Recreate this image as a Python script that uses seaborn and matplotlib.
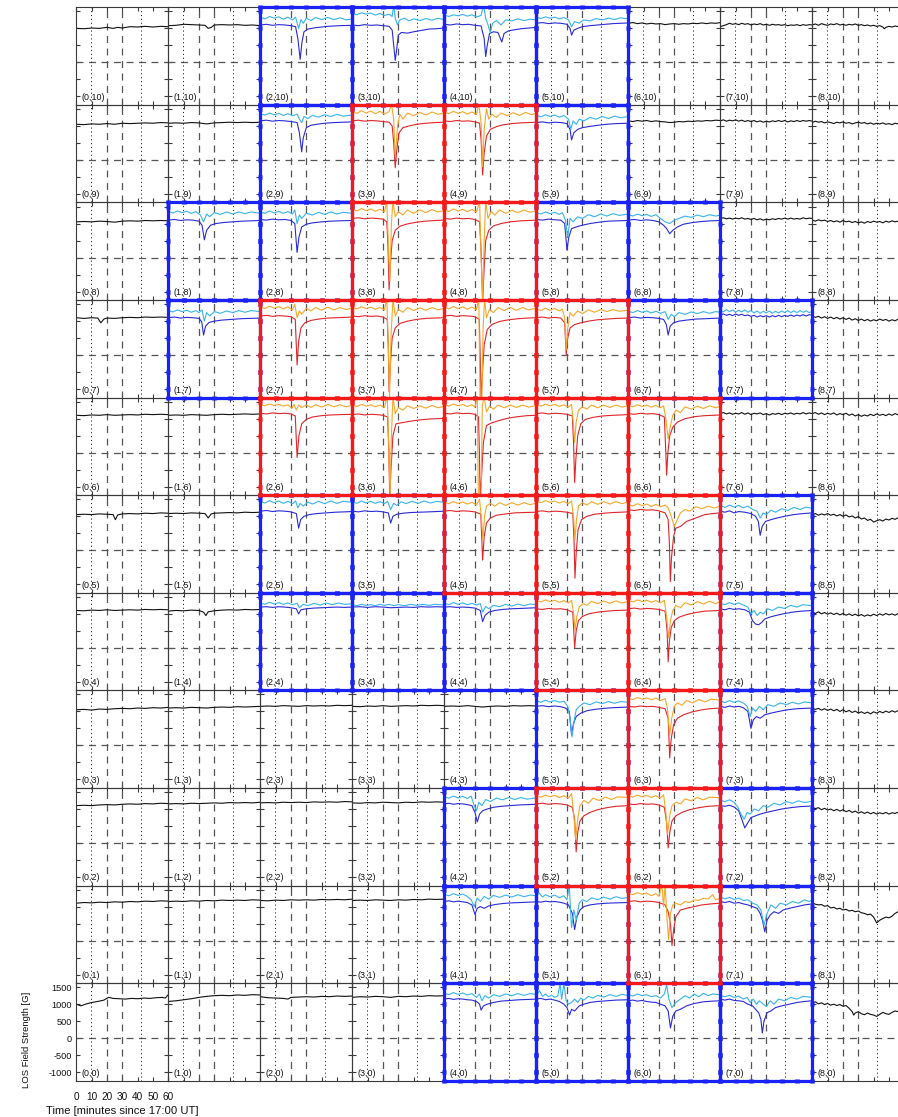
import matplotlib
matplotlib.use("Agg")
import matplotlib.pyplot as plt
import pandas as pd
import seaborn as sns

sns.set_theme(style="white")
plt.rcParams["font.family"] = ["Liberation Sans", "DejaVu Sans"]
plt.rcParams["lines.scale_dashes"] = False

# ---------------------------------------------------------------------------
# Grid of LOS magnetogram cells: 9 columns x 11 rows, cell label (col,row)
# ---------------------------------------------------------------------------
N_COLS, N_ROWS = 9, 11
TIME_LIM = (0, 60)              # minutes since 17:00 UT
FIELD_LIM = (-1250, 1620)       # gauss
TIME_TICKS = [0, 10, 20, 30, 40, 50, 60]
FIELD_TICKS = [-1000, -500, 0, 500, 1000, 1500]
DASHED_TIMES = [20, 30]
DOTTED_TIMES = [9.5, 42.5]

blue_cells = [(2, 10), (3, 10), (4, 10), (5, 10),
              (2, 9), (5, 9),
              (1, 8), (2, 8), (5, 8), (6, 8),
              (1, 7), (6, 7), (7, 7),
              (2, 5), (3, 5), (7, 5),
              (2, 4), (3, 4), (4, 4), (7, 4),
              (5, 3), (7, 3),
              (4, 2), (7, 2),
              (4, 1), (5, 1), (7, 1),
              (4, 0), (5, 0), (6, 0), (7, 0)]
red_cells = [(3, 9), (4, 9),
             (3, 8), (4, 8),
             (2, 7), (3, 7), (4, 7), (5, 7),
             (2, 6), (3, 6), (4, 6), (5, 6), (6, 6),
             (4, 5), (5, 5), (6, 5),
             (5, 4), (6, 4),
             (6, 3),
             (5, 2), (6, 2),
             (6, 1)]

# ---------------------------------------------------------------------------
# Field-strength traces, (minute, gauss) knots, keyed by column, one dict per row.
# "main": black / dark blue / red curve ; "aux": light blue / orange curve.
# ---------------------------------------------------------------------------
row10_main = {
    0: [(0,1000),(5,990),(10,1010),(15,1000),(20,1030),(24,1000),(27,1030),(30,1010),(35,1050),(40,1040),(45,1060),(50,1040),(55,1060),(60,1050)],
    1: [(0,1080),(5,1090),(10,1120),(15,1110),(20,1100),(24,1090),(26,1000),(28,1030),(30,1100),(35,1110),(40,1100),(45,1110),(50,1090),(55,1100),(60,1080)],
    2: [(0,1100),(4,1120),(8,1090),(12,1110),(16,1100),(20,1080),(23,1050),(24.5,700),(26,90),(27.2,600),(28.5,900),(31,980),(36,1020),(44,1060),(52,1080),(60,1090)],
    3: [(0,1100),(4,1080),(8,1110),(12,1090),(16,1100),(20,1080),(24,1060),(26,950),(27,500),(28,60),(29,400),(30,800),(32,880),(36,860),(40,900),(45,940),(50,980),(55,990),(60,1010)],
    4: [(0,1120),(4,1100),(8,1130),(12,1110),(16,1120),(20,1090),(24,1070),(26,700),(27,170),(28,500),(29.5,850),(32,900),(35,880),(37.5,600),(39,850),(42,930),(46,960),(50,990),(55,1010),(60,1030)],
    5: [(0,1150),(4,1170),(8,1140),(12,1160),(16,1150),(20,1120),(22,1000),(23,800),(24.5,950),(27,1000),(30,1050),(35,1080),(40,1100),(45,1120),(50,1140),(55,1150),(60,1160)],
    6: [(0,1150),(3,1170),(6,1140),(9,1160),(12,1130),(15,1150),(18,1130),(21,1140),(24,1110),(27,1130),(30,1140),(33,1120),(36,1140),(39,1130),(42,1150),(45,1140),(48,1160),(51,1140),(54,1160),(57,1150),(60,1170)],
    7: [(0,1050),(2,1080),(4,1110),(6,1150),(8,1120),(10,1140),(12,1110),(14,1150),(16,1120),(18,1140),(20,1100),(22,1130),(24,1110),(26,1140),(28,1100),(30,1120),(32,1090),(34,1120),(36,1100),(38,1110),(40,1090),(42,1110),(44,1080),(46,1100),(48,1090),(50,1110),(52,1080),(54,1110),(56,1090),(58,1110),(60,1100)],
    8: [(0,1100),(2,1130),(4,1090),(6,1140),(8,1110),(10,1090),(12,1130),(14,1110),(16,1140),(18,1100),(20,1120),(22,1090),(24,1120),(26,1100),(28,1130),(30,1090),(32,1110),(34,1080),(36,1100),(38,1070),(40,1090),(42,1060),(44,1080),(46,1040),(47,990),(48,1030),(50,1060),(52,1040),(54,1070),(56,1050),(58,1080),(60,1060)],
}
row10_aux = {
    2: [(0,1330),(3,1280),(6,1350),(9,1300),(12,1340),(15,1270),(18,1330),(21,1250),(23,1330),(25,1000),(26.5,1260),(28,1150),(30,1300),(33,1230),(36,1320),(40,1260),(44,1320),(48,1260),(52,1310),(56,1250),(60,1280)],
    3: [(0,1430),(3,1400),(6,1460),(9,1420),(12,1450),(15,1390),(18,1440),(21,1380),(24,1420),(26,1350),(27,1700),(28,1300),(29.5,1100),(31,1250),(34,1300),(37,1220),(40,1280),(44,1230),(48,1290),(52,1240),(56,1300),(60,1250)],
    4: [(0,1390),(3,1350),(6,1400),(9,1370),(12,1410),(15,1360),(18,1400),(21,1340),(24,1380),(25.5,1700),(27,1300),(28.5,1100),(30,870),(31.5,1150),(34,1230),(37,1100),(40,1250),(44,1220),(48,1280),(52,1230),(56,1270),(60,1250)],
    5: [(0,1330),(3,1290),(6,1340),(9,1300),(12,1330),(15,1280),(18,1320),(21,1250),(23,1050),(25,1200),(28,1150),(31,1250),(35,1220),(39,1290),(43,1250),(47,1300),(51,1260),(55,1310),(60,1280)],
}

row9_main = {
    0: [(0,1050),(5,1040),(10,1060),(15,1050),(20,1070),(25,1050),(30,1080),(35,1070),(40,1080),(45,1090),(50,1080),(55,1100),(60,1090)],
    1: [(0,1080),(5,1090),(10,1080),(15,1100),(20,1090),(25,1060),(30,1090),(35,1100),(40,1110),(45,1100),(50,1110),(55,1100),(60,1110)],
    2: [(0,1150),(4,1170),(8,1140),(12,1160),(16,1150),(20,1130),(24,1100),(25.5,800),(27,240),(28,650),(30,950),(33,1020),(37,1050),(42,1080),(48,1100),(54,1110),(60,1120)],
    3: [(0,1150),(4,1170),(8,1140),(12,1160),(16,1150),(20,1130),(24,1110),(26,1000),(27,500),(28,-230),(29,300),(30.5,800),(33,950),(37,1000),(42,1050),(48,1080),(54,1100),(60,1110)],
    4: [(0,1150),(4,1130),(8,1160),(12,1140),(16,1150),(20,1120),(23,1080),(24,600),(25,-440),(26,200),(27.5,700),(30,900),(34,980),(38,1030),(44,1070),(50,1090),(55,1100),(60,1110)],
    5: [(0,1100),(4,1120),(8,1090),(12,1110),(16,1100),(20,1070),(22,900),(23,590),(24.5,800),(27,900),(30,950),(34,980),(40,1020),(46,1050),(52,1070),(60,1080)],
    6: [(0,1150),(3,1130),(6,1160),(9,1140),(12,1160),(15,1130),(18,1150),(21,1130),(24,1120),(27,1100),(30,1110),(33,1130),(36,1120),(39,1140),(42,1130),(45,1150),(48,1140),(51,1160),(54,1150),(57,1170),(60,1160)],
    7: [(0,1150),(2,1180),(4,1140),(6,1170),(8,1150),(10,1180),(12,1140),(14,1170),(16,1130),(18,1160),(20,1130),(22,1160),(24,1120),(26,1150),(28,1110),(30,1140),(32,1120),(34,1150),(36,1130),(38,1160),(40,1130),(42,1160),(44,1120),(46,1150),(48,1130),(50,1160),(52,1130),(54,1160),(56,1140),(58,1160),(60,1140)],
    8: [(0,1100),(2,1140),(4,1110),(6,1130),(8,1090),(10,1120),(12,1100),(14,1070),(16,1110),(18,1090),(20,1120),(22,1080),(24,1100),(26,1060),(28,1090),(30,1110),(32,1080),(34,1100),(36,1060),(38,1090),(40,1050),(42,1080),(44,1060),(46,1090),(48,1050),(50,1070),(52,1040),(54,1080),(56,1060),(58,1090),(60,1070)],
}
row9_aux = {
    2: [(0,1360),(3,1320),(6,1380),(9,1330),(12,1370),(15,1310),(18,1360),(21,1300),(24,1350),(25.5,1200),(27,1100),(28.5,1280),(31,1220),(34,1310),(38,1260),(42,1330),(46,1280),(50,1340),(54,1290),(60,1320)],
    3: [(0,1420),(3,1370),(6,1450),(9,1380),(12,1440),(15,1360),(18,1430),(21,1350),(24,1420),(25.5,1650),(27,1200),(28,100),(29.5,1000),(31,1350),(33,1200),(36,1380),(40,1300),(44,1400),(48,1320),(52,1410),(56,1340),(60,1390)],
    4: [(0,1400),(3,1360),(6,1430),(9,1370),(12,1420),(15,1350),(18,1410),(21,1340),(22.5,1650),(24,1100),(25,-200),(26,900),(27.5,1500),(29,1200),(31,1350),(34,1250),(37,1380),(41,1300),(45,1390),(49,1310),(53,1400),(57,1330),(60,1380)],
    5: [(0,1310),(3,1270),(6,1330),(9,1280),(12,1320),(15,1260),(18,1310),(21,1200),(22.5,900),(24,1150),(26,1050),(28,1200),(31,1150),(35,1250),(39,1200),(43,1280),(47,1220),(51,1290),(55,1240),(60,1280)],
}

row8_main = {
    0: [(0,1050),(5,1060),(10,1050),(15,1070),(20,1060),(25,1040),(30,1070),(35,1080),(40,1070),(45,1090),(50,1080),(55,1090),(60,1080)],
    1: [(0,1100),(4,1120),(8,1090),(12,1110),(16,1100),(20,1070),(22,950),(23.5,520),(25,800),(27.5,950),(31,1000),(36,1030),(42,1050),(48,1070),(54,1080),(60,1090)],
    2: [(0,1120),(4,1100),(8,1130),(12,1110),(16,1120),(20,1090),(22.5,1000),(24,150),(25.2,600),(27,900),(30,980),(34,1020),(40,1050),(46,1070),(52,1080),(60,1090)],
    3: [(0,1150),(4,1170),(8,1140),(12,1160),(16,1150),(20,1130),(22.5,1050),(23.3,300),(24,-950),(24.8,-200),(26,500),(28,800),(31,920),(36,990),(42,1040),(48,1070),(54,1090),(60,1100)],
    4: [(0,1150),(4,1130),(8,1160),(12,1140),(16,1150),(20,1120),(23,1050),(24,200),(25,-1300),(26,-300),(27,500),(29,800),(32,930),(37,1000),(43,1050),(50,1080),(55,1090),(60,1100)],
    5: [(0,1120),(4,1100),(8,1130),(12,1110),(16,1100),(18.5,1000),(20,220),(21.2,600),(23,850),(26,900),(30,950),(35,1000),(41,1040),(47,1070),(53,1080),(60,1090)],
    6: [(0,1100),(4,1120),(8,1090),(12,1110),(16,1090),(20,1050),(23,950),(25,850),(27,700),(29,800),(32,900),(36,980),(42,1030),(48,1060),(54,1080),(60,1090)],
    7: [(0,1150),(2,1170),(4,1140),(6,1160),(8,1130),(10,1160),(12,1140),(14,1170),(16,1130),(18,1150),(20,1120),(22,1150),(24,1110),(26,1140),(28,1100),(30,1130),(32,1110),(34,1140),(36,1120),(38,1150),(40,1130),(42,1160),(44,1130),(46,1160),(48,1130),(50,1150),(52,1130),(54,1170),(56,1140),(58,1160),(60,1150)],
    8: [(0,1100),(2,1070),(4,1110),(6,1080),(8,1100),(10,1060),(12,1090),(14,1050),(16,1080),(18,1040),(20,1090),(22,1050),(24,1070),(26,1030),(28,1060),(30,1020),(32,1050),(34,1010),(36,1060),(38,1030),(40,1070),(42,1040),(44,1060),(46,1020),(48,1070),(50,1040),(52,1080),(54,1050),(56,1070),(58,1040),(60,1080)],
}
row8_aux = {
    1: [(0,1360),(3,1310),(6,1370),(9,1320),(12,1360),(15,1300),(18,1350),(21,1250),(23,1050),(25,1280),(27,1200),(30,1320),(34,1270),(38,1340),(42,1280),(46,1340),(50,1290),(54,1340),(60,1300)],
    2: [(0,1340),(3,1300),(6,1370),(9,1310),(12,1360),(15,1300),(18,1350),(21,1280),(22.5,1400),(24,1000),(25.5,1250),(27,1150),(30,1300),(34,1250),(38,1330),(42,1270),(46,1340),(50,1280),(54,1330),(60,1300)],
    3: [(0,1420),(3,1370),(6,1440),(9,1380),(12,1430),(15,1360),(18,1420),(21,1350),(22.5,1650),(23.5,400),(24.5,-700),(25.5,1000),(26.5,1650),(28,1200),(30,1350),(33,1250),(36,1400),(40,1300),(44,1400),(48,1320),(52,1410),(56,1340),(60,1390)],
    4: [(0,1400),(3,1350),(6,1430),(9,1370),(12,1420),(15,1350),(18,1410),(21,1340),(23,1650),(24,0),(25,-1300),(26,500),(27,1650),(28.5,1150),(30.5,1350),(33,1250),(36,1400),(40,1300),(44,1390),(48,1320),(52,1400),(56,1330),(60,1380)],
    5: [(0,1320),(3,1280),(6,1340),(9,1290),(12,1330),(15,1270),(17,1320),(19,1100),(20.5,600),(22,1150),(24,1050),(27,1200),(30,1150),(34,1260),(38,1200),(42,1280),(46,1220),(50,1290),(54,1240),(60,1280)],
    6: [(0,1260),(3,1220),(6,1280),(9,1230),(12,1270),(15,1210),(18,1260),(21,1150),(24,1050),(27,1000),(30,1100),(33,1150),(37,1220),(41,1180),(45,1250),(49,1200),(53,1260),(57,1220),(60,1250)],
}

row7_main = {
    0: [(0,1100),(5,1080),(10,1100),(14,1090),(16,950),(18,1060),(20,1090),(25,1080),(30,1100),(35,1110),(40,1100),(45,1120),(50,1110),(55,1120),(60,1110)],
    1: [(0,1100),(4,1120),(8,1090),(12,1110),(16,1100),(20,1080),(21.8,980),(23,590),(24.3,850),(26.5,960),(30,1000),(35,1030),(41,1050),(47,1070),(53,1080),(60,1090)],
    2: [(0,1150),(4,1170),(8,1140),(12,1160),(16,1150),(20,1130),(22.8,1050),(24,-290),(25,400),(26.5,800),(29,950),(33,1020),(38,1060),(44,1090),(50,1100),(55,1110),(60,1120)],
    3: [(0,1150),(4,1130),(8,1160),(12,1140),(16,1150),(20,1120),(22.8,1050),(23.5,200),(24,-1080),(24.8,-300),(26,500),(28,800),(31,930),(36,1000),(42,1050),(48,1080),(54,1090),(60,1100)],
    4: [(0,1150),(4,1170),(8,1140),(12,1160),(16,1150),(20,1130),(22.8,1050),(23.4,0),(24,-1300),(24.8,-600),(26,300),(28,750),(31,900),(36,990),(42,1040),(48,1070),(54,1090),(60,1100)],
    5: [(0,1100),(4,1120),(8,1090),(12,1110),(16,1090),(18.5,950),(19.5,0),(20.5,500),(22,800),(25,900),(29,950),(34,1000),(40,1040),(46,1060),(52,1080),(60,1090)],
    6: [(0,1100),(4,1120),(8,1090),(12,1110),(16,1100),(20,1080),(23,1050),(24.8,900),(26,590),(27.3,850),(29.5,950),(33,1000),(38,1030),(44,1060),(50,1070),(55,1080),(60,1090)],
    7: [(0,1180),(2,1210),(4,1170),(6,1200),(8,1160),(10,1210),(12,1170),(14,1200),(16,1160),(18,1180),(20,1140),(22,1170),(24,1120),(26,1160),(28,1130),(30,1160),(32,1120),(34,1160),(36,1130),(38,1170),(40,1130),(42,1170),(44,1140),(46,1180),(48,1140),(50,1180),(52,1150),(54,1190),(56,1150),(58,1190),(60,1170)],
    8: [(0,1150),(2,1110),(4,1140),(6,1090),(8,1130),(10,1080),(12,1120),(14,1070),(16,1110),(18,1060),(20,1100),(22,1050),(24,1090),(26,1030),(28,1070),(30,1020),(32,1060),(34,1010),(36,1050),(38,1000),(40,1040),(42,1010),(44,1060),(46,1020),(48,1050),(50,1000),(52,1040),(54,1010),(56,1060),(58,1020),(60,1050)],
}
row7_aux = {
    1: [(0,1310),(3,1270),(6,1330),(9,1280),(12,1320),(15,1260),(18,1310),(20,1250),(22,1330),(23.5,1000),(25,1250),(27,1150),(30,1280),(34,1230),(38,1300),(42,1250),(46,1310),(50,1260),(54,1310),(60,1280)],
    2: [(0,1420),(3,1370),(6,1440),(9,1380),(12,1430),(15,1360),(18,1420),(21,1330),(22.5,1500),(24,1100),(25.5,1300),(27,1200),(30,1380),(33,1300),(36,1400),(40,1320),(44,1410),(48,1330),(52,1400),(56,1340),(60,1390)],
    3: [(0,1400),(3,1360),(6,1420),(9,1370),(12,1410),(15,1350),(18,1400),(21,1330),(22.5,1650),(23.5,300),(24.3,-1250),(25.3,600),(26.5,1650),(28,1150),(30,1350),(33,1260),(36,1400),(40,1310),(44,1390),(48,1320),(52,1400),(56,1330),(60,1380)],
    4: [(0,1410),(3,1360),(6,1430),(9,1370),(12,1420),(15,1350),(18,1410),(21,1340),(22.5,1650),(23.3,-1300),(24.5,-1300),(25.3,800),(26.3,1650),(27.5,1100),(29.5,1350),(32,1250),(35,1400),(39,1310),(43,1400),(47,1320),(51,1400),(55,1330),(60,1380)],
    5: [(0,1360),(3,1310),(6,1380),(9,1320),(12,1370),(15,1300),(17,1350),(18.5,1100),(19.5,150),(20.5,800),(22,1250),(24,1150),(27,1300),(30,1220),(34,1330),(38,1260),(42,1340),(46,1280),(50,1340),(54,1290),(60,1320)],
    6: [(0,1290),(3,1250),(6,1310),(9,1260),(12,1300),(15,1240),(18,1290),(21,1230),(24,1280),(26,1050),(28,1200),(30,1130),(33,1250),(37,1200),(41,1270),(45,1220),(49,1280),(53,1230),(57,1280),(60,1260)],
    7: [(0,1310),(2,1270),(4,1340),(6,1280),(8,1330),(10,1260),(12,1320),(14,1270),(16,1330),(18,1260),(20,1310),(22,1240),(24,1300),(26,1230),(28,1290),(30,1240),(32,1300),(34,1230),(36,1290),(38,1240),(40,1300),(42,1250),(44,1310),(46,1250),(48,1300),(50,1250),(52,1310),(54,1260),(56,1300),(58,1250),(60,1290)],
}

row6_main = {
    0: [(0,1100),(5,1090),(10,1110),(15,1100),(20,1120),(25,1100),(30,1110),(35,1120),(40,1110),(45,1130),(50,1120),(55,1130),(60,1120)],
    1: [(0,1100),(5,1110),(10,1100),(15,1120),(20,1110),(25,1100),(30,1120),(35,1130),(40,1120),(45,1130),(50,1140),(55,1130),(60,1140)],
    2: [(0,1160),(4,1140),(8,1170),(12,1150),(16,1160),(20,1140),(22.8,1080),(24,-140),(25.2,500),(27,850),(30,980),(34,1050),(40,1090),(46,1110),(52,1120),(60,1130)],
    3: [(0,1120),(4,1140),(8,1110),(12,1130),(16,1120),(20,1100),(23,1050),(23.8,100),(24.4,-1300),(25.2,-500),(26.5,500),(28.5,850),(32,880),(37,920),(43,960),(50,990),(55,1000),(60,1010)],
    4: [(0,1160),(4,1140),(8,1170),(12,1150),(16,1160),(20,1130),(22.3,1050),(22.9,0),(23.4,-1300),(24.3,-700),(25.5,300),(27.5,800),(31,880),(36,950),(42,1020),(48,1060),(54,1090),(60,1100)],
    5: [(0,1150),(4,1170),(8,1140),(12,1160),(16,1150),(20,1130),(23.5,1080),(24.3,300),(25,-880),(25.8,-200),(27,500),(29,850),(32,980),(37,1040),(43,1080),(50,1100),(55,1110),(60,1120)],
    6: [(0,1150),(4,1130),(8,1160),(12,1140),(16,1150),(20,1120),(23.5,1050),(24.3,200),(25,-660),(25.8,0),(27,500),(29,750),(32,900),(37,1000),(43,1060),(50,1090),(55,1100),(60,1110)],
    7: [(0,1150),(2,1180),(4,1140),(6,1170),(8,1130),(10,1160),(12,1140),(14,1180),(16,1130),(18,1170),(20,1120),(22,1160),(24,1140),(26,1170),(28,1120),(30,1150),(32,1110),(34,1150),(36,1130),(38,1160),(40,1120),(42,1160),(44,1140),(46,1170),(48,1130),(50,1160),(52,1140),(54,1180),(56,1140),(58,1170),(60,1150)],
    8: [(0,1150),(2,1180),(4,1130),(6,1170),(8,1120),(10,1160),(12,1130),(14,1170),(16,1110),(18,1150),(20,1120),(22,1160),(24,1100),(26,1140),(28,1080),(30,1120),(32,1070),(34,1110),(36,1080),(38,1130),(40,1090),(42,1140),(44,1100),(46,1130),(48,1090),(50,1140),(52,1100),(54,1150),(56,1110),(58,1140),(60,1120)],
}
row6_aux = {
    2: [(0,1410),(3,1380),(6,1430),(9,1390),(12,1420),(15,1370),(18,1410),(20.5,1300),(22,1420),(23.5,1250),(25,1400),(27,1330),(30,1400),(33,1330),(36,1410),(40,1340),(44,1420),(48,1350),(52,1410),(56,1350),(60,1400)],
    3: [(0,1400),(3,1360),(6,1420),(9,1370),(12,1410),(15,1350),(18,1400),(21,1330),(22.8,1650),(23.8,200),(24.6,-1300),(25.5,500),(26.5,1650),(28,1150),(30,1330),(33,1250),(36,1380),(40,1300),(44,1380),(48,1310),(52,1390),(56,1320),(60,1370)],
    4: [(0,1410),(3,1370),(6,1430),(9,1380),(12,1420),(15,1360),(18,1410),(20,1340),(21.5,1650),(22.2,-1300),(24,-1300),(24.8,1400),(26,1650),(27.5,1200),(29.5,1370),(32,1280),(35,1400),(39,1320),(43,1400),(47,1330),(51,1400),(55,1340),(60,1390)],
    5: [(0,1410),(3,1370),(6,1430),(9,1380),(12,1420),(15,1360),(18,1410),(21,1340),(23,1420),(24.3,800),(25,300),(26,900),(27.5,1250),(30,1350),(33,1280),(36,1400),(40,1320),(44,1400),(48,1330),(52,1400),(56,1340),(60,1390)],
    6: [(0,1390),(3,1350),(6,1410),(9,1360),(12,1400),(15,1340),(18,1390),(21,1320),(23,1380),(24.5,1000),(26,400),(27.5,800),(29,1100),(31,1250),(34,1180),(37,1350),(41,1280),(45,1370),(49,1300),(53,1380),(57,1320),(60,1370)],
}

row5_main = {
    0: [(0,1050),(5,1060),(10,1050),(15,1070),(20,1060),(24,1050),(25.5,900),(27,1040),(30,1070),(35,1080),(40,1070),(45,1090),(50,1080),(55,1100),(60,1090)],
    1: [(0,1080),(5,1090),(10,1080),(15,1100),(20,1090),(24,1080),(26,950),(28,1070),(30,1090),(35,1100),(40,1110),(45,1100),(50,1120),(55,1110),(60,1120)],
    2: [(0,1150),(4,1170),(8,1140),(12,1160),(16,1150),(20,1130),(23.5,1080),(25,650),(26.3,900),(28.5,1000),(32,1050),(37,1080),(43,1100),(49,1120),(55,1130),(60,1140)],
    3: [(0,1150),(4,1130),(8,1160),(12,1140),(16,1150),(20,1130),(23.5,1100),(25,800),(26.5,1000),(29,1060),(33,1090),(38,1110),(44,1120),(50,1130),(55,1140),(60,1150)],
    4: [(0,1150),(4,1170),(8,1140),(12,1160),(16,1150),(20,1130),(23.8,1060),(25,-290),(26,400),(27.5,800),(30,950),(34,1030),(40,1070),(46,1100),(52,1110),(60,1120)],
    5: [(0,1140),(4,1160),(8,1130),(12,1150),(16,1140),(20,1120),(23.8,1080),(24.6,300),(25.2,-820),(26,-100),(27.2,600),(29.5,900),(33,1000),(38,1060),(44,1090),(50,1110),(55,1120),(60,1130)],
    6: [(0,1190),(4,1170),(8,1200),(12,1180),(16,1190),(20,1160),(24,1100),(26,900),(26.8,200),(27.4,-920),(28.2,-200),(29.5,400),(31,650),(34,700),(38,850),(44,950),(50,1050),(55,1080),(60,1100)],
    7: [(0,1150),(3,1120),(6,1160),(9,1100),(12,1140),(16,1120),(20,1080),(23,1000),(24.8,850),(26,440),(27.3,700),(29.5,850),(33,900),(37,950),(42,1000),(48,1050),(54,1080),(60,1100)],
    8: [(0,1050),(2,1080),(4,1030),(6,1070),(8,1040),(10,1080),(12,1030),(14,1060),(16,1010),(18,1050),(20,1000),(22,1040),(24,980),(26,1010),(28,950),(30,990),(32,920),(34,950),(36,880),(38,910),(40,830),(42,870),(44,900),(46,860),(48,920),(50,890),(52,940),(54,910),(56,960),(58,930),(60,990)],
}
row5_aux = {
    2: [(0,1430),(3,1390),(6,1460),(9,1400),(12,1450),(15,1380),(18,1440),(21,1370),(23,1450),(24.5,1250),(26,1380),(28,1300),(31,1420),(34,1360),(38,1440),(42,1370),(46,1450),(50,1380),(54,1440),(60,1410)],
    3: [(0,1420),(3,1380),(6,1450),(9,1390),(12,1440),(15,1380),(18,1430),(21,1370),(23,1440),(25,1200),(27,1380),(29,1320),(32,1430),(35,1370),(39,1440),(43,1380),(47,1450),(51,1390),(55,1440),(60,1410)],
    4: [(0,1410),(3,1370),(6,1430),(9,1380),(12,1420),(15,1360),(18,1410),(21,1340),(23,1500),(24.3,900),(25.2,300),(26.2,1000),(27.5,1300),(30,1380),(33,1300),(36,1400),(40,1320),(44,1400),(48,1330),(52,1400),(56,1340),(60,1390)],
    5: [(0,1440),(3,1400),(6,1460),(9,1410),(12,1450),(15,1390),(18,1440),(21,1370),(23,1450),(24.4,900),(25.2,306),(26.2,900),(27.5,1300),(30,1400),(33,1330),(36,1430),(40,1350),(44,1430),(48,1360),(52,1430),(56,1370),(60,1420)],
    6: [(0,1340),(3,1300),(6,1370),(9,1310),(12,1360),(15,1290),(18,1350),(21,1280),(24,1330),(26,1250),(28,1000),(30,700),(32,900),(34,1100),(37,1200),(40,1150),(44,1280),(48,1220),(52,1300),(56,1240),(60,1300)],
    7: [(0,1320),(3,1260),(6,1330),(9,1270),(12,1320),(15,1250),(18,1300),(21,1200),(24,1150),(26,950),(28,1100),(30,1050),(33,1180),(36,1120),(40,1220),(44,1170),(48,1260),(52,1200),(56,1270),(60,1230)],
}

row4_main = {
    0: [(0,1100),(5,1090),(10,1110),(15,1100),(20,1120),(25,1100),(30,1110),(35,1120),(40,1110),(45,1130),(50,1120),(55,1130),(60,1120)],
    1: [(0,1080),(5,1100),(10,1090),(15,1110),(20,1100),(23,1050),(24.5,950),(26,1060),(30,1090),(35,1110),(40,1120),(45,1110),(50,1130),(55,1120),(60,1130)],
    2: [(0,1200),(4,1210),(8,1190),(12,1210),(16,1200),(20,1180),(23.5,1150),(25,1000),(26.5,1120),(30,1150),(35,1170),(40,1180),(45,1190),(50,1200),(55,1190),(60,1200)],
    3: [(0,1200),(5,1210),(10,1190),(15,1210),(20,1200),(25,1180),(30,1190),(35,1200),(40,1190),(45,1210),(50,1200),(55,1210),(60,1200)],
    4: [(0,1200),(4,1210),(8,1190),(12,1200),(16,1190),(20,1170),(23.5,1100),(25,770),(26.5,950),(29,1050),(33,1100),(38,1130),(44,1150),(50,1160),(55,1170),(60,1180)],
    5: [(0,1150),(4,1130),(8,1160),(12,1140),(16,1150),(20,1120),(23.8,1050),(25,0),(26,500),(27.5,800),(30,920),(34,1000),(40,1050),(46,1080),(52,1100),(60,1110)],
    6: [(0,1150),(4,1170),(8,1140),(12,1160),(16,1150),(20,1130),(24,1080),(25.3,500),(26,-410),(26.8,200),(28,600),(30,800),(33,900),(38,980),(44,1040),(50,1080),(55,1090),(60,1100)],
    7: [(0,1150),(3,1120),(6,1160),(9,1130),(12,1150),(16,1120),(19,1050),(21,800),(23,700),(25,680),(27,750),(29,850),(32,900),(36,950),(41,1000),(47,1050),(53,1080),(60,1100)],
    8: [(0,1050),(2,1010),(4,1060),(6,1000),(8,1040),(10,990),(12,1030),(14,980),(16,1020),(18,970),(20,1010),(22,960),(24,1000),(26,950),(28,990),(30,940),(32,980),(34,930),(36,970),(38,940),(40,990),(42,950),(44,1000),(46,960),(48,1010),(50,970),(52,1000),(54,960),(56,1010),(58,980),(60,1020)],
}
row4_aux = {
    2: [(0,1320),(3,1280),(6,1340),(9,1290),(12,1330),(15,1280),(18,1320),(21,1270),(24,1310),(25.5,1180),(28,1280),(31,1240),(35,1310),(39,1260),(43,1320),(47,1270),(51,1320),(55,1280),(60,1300)],
    3: [(0,1270),(3,1240),(6,1280),(9,1250),(12,1270),(15,1240),(18,1280),(21,1250),(24,1280),(27,1240),(30,1270),(34,1240),(38,1280),(42,1250),(46,1280),(50,1250),(54,1280),(60,1260)],
    4: [(0,1310),(3,1270),(6,1330),(9,1280),(12,1320),(15,1270),(18,1310),(21,1260),(23.5,1300),(25,1050),(27,1220),(29,1150),(32,1250),(36,1210),(40,1280),(44,1230),(48,1290),(52,1240),(56,1290),(60,1270)],
    5: [(0,1390),(3,1350),(6,1410),(9,1360),(12,1400),(15,1340),(18,1390),(21,1320),(23,1400),(24.4,1000),(25.3,500),(26.3,900),(28,1200),(30.5,1300),(33,1250),(36,1370),(40,1300),(44,1380),(48,1310),(52,1380),(56,1320),(60,1370)],
    6: [(0,1390),(3,1350),(6,1410),(9,1360),(12,1400),(15,1340),(18,1390),(21,1320),(23.5,1400),(25,900),(26.3,300),(27.5,800),(29,1100),(31,1250),(34,1180),(37,1330),(41,1260),(45,1360),(49,1290),(53,1370),(57,1300),(60,1360)],
    7: [(0,1310),(3,1270),(6,1330),(9,1280),(12,1320),(15,1260),(18,1200),(20,1000),(22,1100),(24,950),(26,1050),(28,1000),(31,1150),(34,1100),(38,1200),(42,1160),(46,1250),(50,1200),(54,1270),(60,1240)],
}

row3_main = {
    0: [(0,1050),(5,1060),(10,1040),(15,1070),(20,1060),(25,1080),(30,1090),(35,1080),(40,1100),(45,1090),(50,1110),(55,1100),(60,1120)],
    1: [(0,1100),(5,1110),(10,1100),(15,1120),(20,1110),(25,1100),(30,1120),(35,1130),(40,1120),(45,1140),(50,1130),(55,1140),(60,1150)],
    2: [(0,1150),(5,1160),(10,1150),(15,1170),(20,1160),(25,1150),(30,1170),(35,1160),(40,1170),(45,1160),(50,1180),(55,1170),(60,1180)],
    3: [(0,1150),(5,1140),(10,1160),(15,1150),(20,1170),(25,1150),(30,1160),(35,1170),(40,1160),(45,1180),(50,1170),(55,1180),(60,1170)],
    4: [(0,1150),(5,1160),(10,1150),(15,1170),(20,1150),(25,1130),(30,1150),(35,1160),(40,1150),(45,1170),(50,1160),(55,1170),(60,1160)],
    5: [(0,1150),(4,1170),(8,1140),(12,1160),(16,1140),(19,1100),(21.5,1000),(23,310),(24.3,650),(26,850),(29,950),(33,1020),(38,1060),(44,1090),(50,1110),(55,1120),(60,1130)],
    6: [(0,1150),(4,1130),(8,1160),(12,1140),(16,1150),(20,1120),(24,1080),(26,800),(27,-365),(28,200),(29.5,600),(32,800),(36,900),(41,980),(47,1040),(53,1080),(60,1100)],
    7: [(0,1150),(3,1120),(6,1160),(9,1130),(12,1150),(15,1110),(18,1000),(20,500),(21.5,750),(23.5,850),(26,800),(29,900),(33,950),(38,1000),(44,1050),(50,1080),(55,1090),(60,1100)],
    8: [(0,1100),(2,1060),(4,1090),(6,1040),(8,1080),(10,1030),(12,1070),(14,1020),(16,1060),(18,1000),(20,1050),(22,990),(24,1030),(26,970),(28,1010),(30,950),(32,990),(34,940),(36,980),(38,930),(40,990),(42,950),(44,1000),(46,960),(48,1010),(50,970),(52,1020),(54,980),(56,1030),(58,990),(60,1040)],
}
row3_aux = {
    5: [(0,1310),(3,1270),(6,1330),(9,1280),(12,1320),(15,1270),(18,1300),(20.5,1150),(22,800),(23.3,250),(24.6,700),(26,1050),(28,1150),(31,1250),(35,1200),(39,1280),(43,1230),(47,1290),(51,1240),(55,1290),(60,1270)],
    6: [(0,1390),(3,1350),(6,1410),(9,1360),(12,1400),(15,1340),(18,1390),(21,1320),(24,1380),(25.5,1100),(27,300),(28.3,800),(30,1150),(32,1250),(35,1180),(38,1320),(42,1250),(46,1350),(50,1280),(54,1360),(60,1330)],
    7: [(0,1310),(3,1260),(6,1320),(9,1270),(12,1310),(15,1250),(17.5,1150),(19.5,850),(21,1100),(23,1000),(25.5,1150),(28,1050),(31,1200),(35,1150),(39,1250),(43,1200),(47,1270),(51,1220),(55,1280),(60,1250)],
}

row2_main = {
    0: [(0,1100),(5,1110),(10,1100),(15,1120),(20,1130),(25,1120),(30,1140),(35,1150),(40,1140),(45,1160),(50,1150),(55,1170),(60,1160)],
    1: [(0,1150),(5,1160),(10,1150),(15,1170),(20,1160),(25,1170),(30,1180),(35,1170),(40,1190),(45,1180),(50,1190),(55,1180),(60,1200)],
    2: [(0,1180),(5,1190),(10,1180),(15,1200),(20,1190),(25,1200),(30,1190),(35,1210),(40,1200),(45,1210),(50,1200),(55,1220),(60,1210)],
    3: [(0,1180),(5,1170),(10,1190),(15,1180),(20,1200),(25,1190),(30,1180),(35,1200),(40,1190),(45,1210),(50,1200),(55,1210),(60,1200)],
    4: [(0,1150),(3,1170),(6,1140),(9,1160),(12,1150),(15,1130),(18,1100),(20,900),(21.5,620),(23,850),(25,950),(28,1000),(32,1050),(37,1080),(43,1100),(49,1120),(55,1130),(60,1140)],
    5: [(0,1150),(4,1170),(8,1140),(12,1160),(16,1150),(20,1120),(23.5,1050),(25,700),(26,-260),(27,300),(28.5,650),(31,800),(35,900),(40,980),(46,1040),(52,1080),(60,1100)],
    6: [(0,1150),(4,1130),(8,1160),(12,1140),(16,1150),(20,1120),(23.5,1050),(25,600),(26,-144),(27,300),(28.5,650),(31,800),(35,900),(40,980),(46,1040),(52,1080),(60,1100)],
    7: [(0,1100),(3,1080),(6,1110),(9,1060),(12,950),(14,700),(16,444),(18,600),(20,750),(23,800),(26,850),(30,900),(35,950),(40,1000),(46,1040),(52,1070),(60,1090)],
    8: [(0,1050),(2,1010),(4,1040),(6,980),(8,1020),(10,970),(12,1000),(14,950),(16,990),(18,940),(20,980),(22,920),(24,960),(26,900),(28,940),(30,880),(32,920),(34,870),(36,910),(38,860),(40,900),(42,850),(44,890),(46,860),(48,900),(50,850),(52,890),(54,870),(56,910),(58,880),(60,930)],
}
row2_aux = {
    4: [(0,1360),(3,1320),(6,1380),(9,1330),(12,1370),(15,1310),(17.5,1380),(19.5,1100),(21,950),(22.5,1200),(24.5,1100),(27,1280),(30,1220),(34,1320),(38,1270),(42,1340),(46,1280),(50,1340),(54,1290),(60,1330)],
    5: [(0,1390),(3,1350),(6,1410),(9,1360),(12,1400),(15,1340),(18,1390),(21,1320),(23,1450),(24.5,800),(25.7,100),(27,700),(28.5,1100),(31,1250),(34,1170),(37,1320),(41,1250),(45,1350),(49,1280),(53,1360),(60,1340)],
    6: [(0,1390),(3,1350),(6,1410),(9,1360),(12,1400),(15,1340),(18,1390),(21,1320),(23,1420),(24.5,900),(25.6,250),(27,800),(28.5,1100),(31,1200),(34,1150),(37,1300),(41,1240),(45,1340),(49,1270),(53,1350),(60,1330)],
    7: [(0,1260),(3,1220),(6,1270),(9,1200),(11.5,1050),(13.5,850),(15.5,700),(17.5,900),(19.5,850),(22,1000),(25,950),(28,1100),(31,1050),(35,1170),(39,1120),(43,1220),(47,1170),(51,1240),(55,1190),(60,1230)],
}

row1_main = {
    0: [(0,1100),(5,1120),(10,1110),(15,1130),(20,1120),(25,1140),(30,1130),(35,1150),(40,1140),(45,1160),(50,1150),(55,1170),(60,1160)],
    1: [(0,1150),(5,1160),(10,1150),(15,1170),(20,1160),(25,1180),(30,1170),(35,1190),(40,1180),(45,1190),(50,1180),(55,1200),(60,1190)],
    2: [(0,1180),(5,1170),(10,1190),(15,1180),(20,1200),(25,1190),(30,1200),(35,1190),(40,1210),(45,1200),(50,1210),(55,1200),(60,1220)],
    3: [(0,1180),(5,1190),(10,1180),(15,1200),(20,1190),(25,1180),(30,1200),(35,1190),(40,1210),(45,1200),(50,1220),(55,1210),(60,1220)],
    4: [(0,1150),(3,1170),(6,1140),(9,1160),(12,1140),(15,1120),(18,1050),(20,770),(21.5,950),(23.5,1000),(26,950),(29,1020),(33,1060),(38,1090),(44,1110),(50,1120),(55,1130),(60,1140)],
    5: [(0,1150),(3,1130),(6,1160),(9,1140),(12,1150),(15,1130),(18,1100),(21,1050),(23.5,800),(25,326),(26.5,700),(28.5,900),(31,1000),(35,1050),(40,1080),(46,1100),(52,1110),(60,1120)],
    6: [(0,1150),(4,1170),(8,1140),(12,1160),(16,1150),(20,1120),(24,1050),(26,850),(27.5,500),(28.5,-145),(29.5,300),(31,700),(34,900),(38,950),(43,1000),(48,1050),(54,1080),(60,1100)],
    7: [(0,1150),(3,1120),(6,1150),(9,1100),(12,1120),(15,1080),(18,1050),(21,1000),(24,950),(26,800),(27.5,600),(29,260),(30.5,600),(32.5,750),(35,850),(38,800),(41,900),(45,950),(50,1000),(55,1050),(60,1080)],
    8: [(0,1110),(2,1070),(4,1050),(6,1060),(8,1010),(10,1030),(12,960),(14,980),(16,930),(18,950),(20,900),(22,920),(24,870),(26,890),(28,850),(30,870),(32,820),(34,800),(36,760),(38,780),(40,690),(42,520),(44,600),(46,650),(48,690),(50,670),(52,720),(54,800),(56,850),(58,830),(60,880)],
}
row1_aux = {
    4: [(0,1360),(3,1320),(6,1380),(9,1330),(12,1370),(15,1300),(17.5,1200),(19.5,1000),(21.5,1250),(23.5,1150),(26,1300),(29,1220),(32,1330),(36,1270),(40,1340),(44,1280),(48,1350),(52,1290),(56,1340),(60,1320)],
    5: [(0,1310),(2,1400),(4,1280),(6,1350),(9,1290),(12,1340),(15,1260),(18,1320),(20,1200),(21.5,1600),(23,380),(24.5,900),(26,600),(28,1100),(30,1200),(33,1150),(36,1260),(40,1200),(44,1280),(48,1220),(52,1290),(56,1240),(60,1270)],
    6: [(0,1390),(3,1350),(6,1410),(9,1360),(12,1400),(15,1320),(18,1380),(20,1300),(22,1650),(23,1000),(24,1650),(25.3,600),(26.3,32),(27.5,800),(29,1050),(31,1100),(34,1050),(37,1150),(40,1120),(43,1200),(46,1180),(49,1250),(52,1220),(55,1350),(57,1200),(60,1250)],
    7: [(0,1280),(3,1230),(6,1270),(9,1210),(12,1250),(15,1180),(18,1200),(21,1100),(24,1050),(26.5,900),(28.5,450),(30.5,800),(33,1050),(36,950),(39,1100),(43,1050),(47,1150),(51,1100),(55,1200),(58,1150),(60,1200)],
}

row0_main = {
    0: [(0,1000),(3,950),(6,1000),(10,1050),(14,1080),(18,1120),(21,1200),(24,1170),(28,1160),(32,1150),(36,1170),(40,1160),(44,1180),(48,1170),(52,1190),(56,1200),(58,1180),(60,1280)],
    1: [(0,1080),(5,1100),(10,1130),(15,1160),(20,1200),(25,1230),(30,1250),(35,1260),(40,1250),(45,1270),(50,1260),(55,1280),(60,1270)],
    2: [(0,1220),(5,1190),(10,1180),(15,1170),(18,1150),(20,1200),(25,1210),(30,1220),(35,1210),(40,1230),(45,1220),(50,1240),(55,1230),(60,1240)],
    3: [(0,1200),(5,1220),(10,1210),(15,1230),(20,1220),(25,1200),(30,1230),(35,1220),(40,1240),(45,1230),(50,1250),(55,1240),(60,1250)],
    4: [(0,1150),(3,1170),(6,1140),(9,1160),(12,1150),(15,1130),(18,1120),(21,1080),(23,1000),(24,826),(25.5,950),(28,1000),(32,1050),(37,1090),(43,1110),(49,1130),(55,1140),(60,1150)],
    5: [(0,1150),(3,1170),(6,1130),(9,1150),(12,1120),(15,1080),(18,1000),(20,900),(21.7,680),(23,850),(25,800),(28,950),(31,1000),(35,1050),(40,1080),(46,1100),(52,1120),(60,1130)],
    6: [(0,1100),(3,1120),(6,1090),(9,1110),(12,1080),(15,1060),(18,1050),(21,1000),(24,950),(26,800),(27.5,300),(29,650),(31,800),(34,850),(38,950),(43,1020),(49,1070),(55,1090),(60,1100)],
    7: [(0,1150),(3,1120),(6,1150),(9,1110),(12,1100),(15,1080),(18,1000),(21,950),(23,850),(25,750),(26.5,550),(27.4,150),(28.5,500),(30.5,750),(33,800),(36,900),(40,950),(45,1000),(50,1050),(55,1080),(60,1100)],
    8: [(0,1040),(2,1070),(4,1010),(6,1040),(8,990),(10,1020),(12,970),(14,1000),(16,960),(18,990),(20,940),(22,960),(24,880),(26,780),(27,680),(28,740),(30,780),(32,720),(34,690),(36,740),(38,700),(40,680),(42,640),(44,700),(46,760),(48,720),(50,700),(52,760),(54,800),(56,780),(58,830),(60,860)],
}
row0_aux = {
    4: [(0,1320),(3,1280),(6,1340),(9,1290),(12,1330),(15,1270),(18,1310),(21,1200),(23,1300),(24.5,1100),(26.5,1250),(29,1180),(32,1280),(36,1230),(40,1300),(44,1250),(48,1310),(52,1260),(56,1310),(60,1290)],
    5: [(0,1250),(2,1400),(4,1230),(6,1300),(8,1220),(10,1260),(12,1200),(14,1240),(15.5,1600),(16.5,1150),(18,1600),(19.5,1100),(21,1000),(23,1050),(25,1150),(27,1050),(29,1180),(31,1120),(34,1230),(37,1180),(40,1260),(44,1210),(48,1280),(52,1230),(56,1290),(60,1250)],
    6: [(0,1290),(3,1240),(6,1300),(9,1250),(12,1280),(15,1220),(18,1250),(21,1180),(23.5,1300),(25,1560),(26.5,1150),(28.5,900),(31,1050),(34,1150),(37,1250),(40,1180),(43,1300),(46,1220),(49,1320),(52,1250),(55,1300),(60,1280)],
    7: [(0,1250),(3,1220),(6,1260),(9,1200),(12,1240),(15,1150),(17.5,1200),(19.5,1050),(21.5,1150),(23.5,1000),(25.5,1100),(28,1000),(30,932),(32.5,1100),(35,1000),(38,1150),(42,1100),(46,1200),(50,1150),(54,1230),(60,1200)],
}

main_rows = [row0_main, row1_main, row2_main, row3_main, row4_main, row5_main,
             row6_main, row7_main, row8_main, row9_main, row10_main]
aux_rows = [row0_aux, row1_aux, row2_aux, row3_aux, row4_aux, row5_aux,
            row6_aux, row7_aux, row8_aux, row9_aux, row10_aux]

# ---------------------------------------------------------------------------
# Styling
# ---------------------------------------------------------------------------
STYLE = {
    "black": dict(frame="#3a3a3a", frame_lw=0.8, main="#111111", aux=None),
    "blue": dict(frame="#1a22f5", frame_lw=2.3, main="#2a2ad6", aux="#38b4ec"),
    "red": dict(frame="#f51a1a", frame_lw=2.3, main="#e0262a", aux="#f4a82a"),
}

FIG_W, FIG_H = 898, 1117
X0, Y0 = 76.3, 7.3          # top-left corner of the grid, pixels
DX, DY = 92.0, 97.58        # cell size, pixels

fig = plt.figure(figsize=(FIG_W / 100, FIG_H / 100), dpi=100)
fig.patch.set_facecolor("white")


def cell_rect(col, row):
    left = X0 + DX * col
    top = Y0 + DY * (N_ROWS - 1 - row)
    return [left / FIG_W, 1 - (top + DY) / FIG_H, DX / FIG_W, DY / FIG_H]


def draw_trace(ax, knots, color):
    df = pd.DataFrame(knots, columns=["minute", "gauss"])
    sns.lineplot(data=df, x="minute", y="gauss", ax=ax, color=color,
                 linewidth=0.8, estimator=None, sort=False, legend=False,
                 zorder=3)


def draw_cell(col, row, kind):
    st = STYLE[kind]
    ax = fig.add_axes(cell_rect(col, row))
    ax.set_facecolor("none")
    ax.set_xlim(*TIME_LIM)
    ax.set_ylim(*FIELD_LIM)

    ax.axhline(0, color="#555555", lw=0.9, ls=(0, (5, 4)), zorder=1)
    for t in DASHED_TIMES:
        ax.axvline(t, color="#555555", lw=0.9, ls=(0, (5, 4)), zorder=1)
    for t in DOTTED_TIMES:
        ax.axvline(t, color="#222222", lw=0.7, ls=(0, (0.8, 2.0)), zorder=1)

    draw_trace(ax, main_rows[row][col], st["main"])
    if st["aux"] is not None and col in aux_rows[row]:
        draw_trace(ax, aux_rows[row][col], st["aux"])

    ax.set_xticks(TIME_TICKS)
    ax.set_yticks(FIELD_TICKS)
    ax.set_xlabel("")
    ax.set_ylabel("")
    for sp in ax.spines.values():
        sp.set_color(st["frame"])
        sp.set_linewidth(st["frame_lw"])
        sp.set_visible(True)
        sp.set_zorder(5)
    if kind == "black":
        ax.tick_params(which="both", direction="in", length=3, width=0.8,
                       color="#3a3a3a", top=True, right=True, bottom=True,
                       left=True, labelbottom=False, labelleft=False)
    else:
        ax.tick_params(which="both", direction="inout", length=3.3, width=3.3,
                       color=st["frame"], top=True, right=True, bottom=True,
                       left=True, labelbottom=False, labelleft=False)

    ax.text(0.058, 0.078, f"({col},{row})", transform=ax.transAxes,
            fontsize=6.4, ha="left", va="center", color="#111111", zorder=6)

    if (col, row) == (0, 0):
        ax.tick_params(axis="y", labelleft=True, pad=3, labelsize=6.6,
                       labelcolor="#111111")
        ax.tick_params(axis="x", labelbottom=True, pad=8, labelsize=7.2,
                       labelcolor="#111111")
        ax.set_yticklabels([str(v) for v in FIELD_TICKS])
        ax.set_xticklabels([str(v) for v in TIME_TICKS])
    return ax


blue_set, red_set = set(blue_cells), set(red_cells)
black_cells = [(c, r) for r in range(N_ROWS) for c in range(N_COLS)
               if (c, r) not in blue_set and (c, r) not in red_set]

# plain cells first, then framed blue and red cells on top of them
for c, r in black_cells:
    draw_cell(c, r, "black")
for c, r in blue_cells:
    draw_cell(c, r, "blue")
for c, r in red_cells:
    draw_cell(c, r, "red")

fig.text(27 / FIG_W, 1 - 1040 / FIG_H, "LOS Field Strength [G]",
         rotation=90, ha="center", va="center", fontsize=6.8, color="#111111")
fig.text(46 / FIG_W, 1 - 1111 / FIG_H, "Time [minutes since 17:00 UT]",
         ha="left", va="center", fontsize=8.1, color="#111111")

fig.savefig("out.png", dpi=100, facecolor="white")
